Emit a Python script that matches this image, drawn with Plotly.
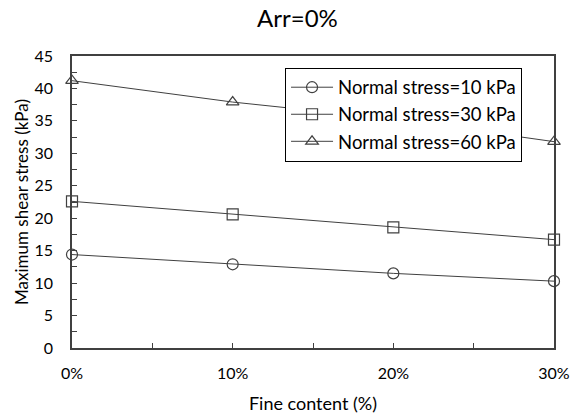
import plotly.graph_objects as go

categories = ["0%", "10%", "20%", "30%"]
series_names = ["Normal stress=10 kPa", "Normal stress=30 kPa", "Normal stress=60 kPa"]
stress_10 = [14.4, 12.9, 11.5, 10.3]
stress_30 = [22.6, 20.6, 18.6, 16.7]
stress_60 = [41.2, 37.9, 35.3, 31.8]
y_ticks = [0, 5, 10, 15, 20, 25, 30, 35, 40, 45]

FONT = "Lato"
DARK = "#404040"
symbols = ["circle-open", "square-open", "triangle-up-open"]
x_idx = list(range(len(categories)))

fig = go.Figure()
for name, vals, sym in zip(series_names, [stress_10, stress_30, stress_60], symbols):
    fig.add_trace(go.Scatter(
        x=x_idx, y=vals, name=name, mode="lines+markers",
        line=dict(color=DARK, width=1),
        marker=dict(symbol=sym, size=11, color=DARK, line=dict(width=1.2, color=DARK)),
        cliponaxis=False,
    ))

fig.update_layout(
    width=581, height=414,
    margin=dict(l=72, r=27, t=56, b=66),
    paper_bgcolor="white", plot_bgcolor="white",
    font=dict(family=FONT, color="#000000", size=16),
    title=dict(text="Arr=0%", x=0.512, xanchor="center", y=0.955, yanchor="middle",
               font=dict(size=24, family=FONT, color="#000000")),
    showlegend=True,
    legend=dict(x=0.442, y=0.96, xanchor="left", yanchor="top",
                bordercolor="#000000", borderwidth=1, bgcolor="white",
                font=dict(size=18.5, family=FONT), itemwidth=42,
                tracegroupgap=0),
)
fig.update_xaxes(
    range=[0, 3], tickvals=x_idx, ticktext=categories, automargin=False,
    showline=True, linecolor=DARK, linewidth=1.5, mirror=True,
    ticks="inside", ticklen=5, tickcolor=DARK,
    minor=dict(dtick=0.5, tick0=0, ticks="inside", ticklen=5, tickcolor=DARK),
    showgrid=False, zeroline=False, ticklabelstandoff=10,
    title=dict(text="Fine content (%)", font=dict(size=18), standoff=17),
    tickfont=dict(size=16),
)
fig.update_yaxes(
    range=[0, 45], tickvals=y_ticks, automargin=False,
    showline=True, linecolor=DARK, linewidth=1.5, mirror=True,
    ticks="inside", ticklen=5, tickcolor=DARK,
    minor=dict(dtick=2.5, tick0=0, ticks="inside", ticklen=5, tickcolor=DARK),
    showgrid=False, zeroline=False, ticklabelstandoff=14,
    title=dict(text="Maximum shear stress (kPa)", font=dict(size=17), standoff=2),
    tickfont=dict(size=16),
)
fig.write_html("out.html")
